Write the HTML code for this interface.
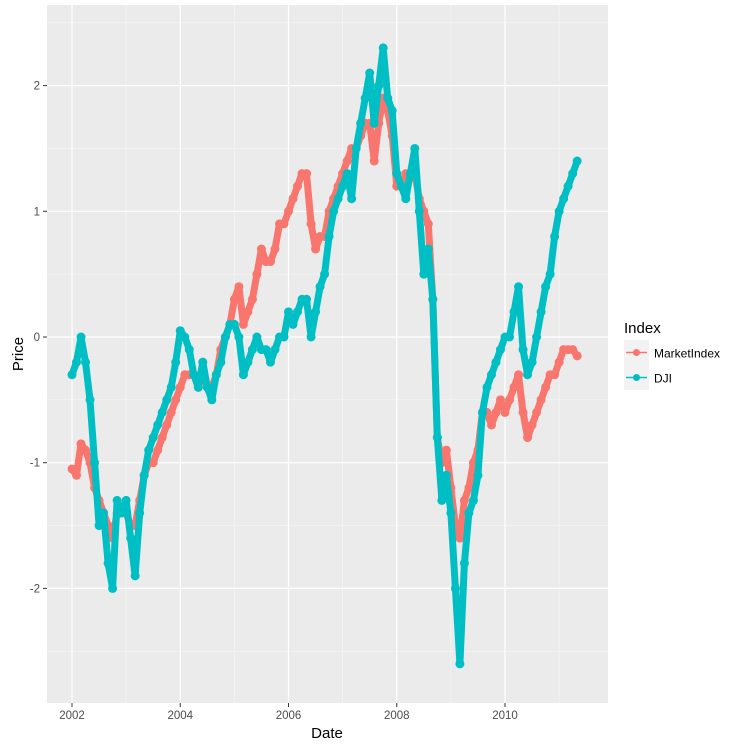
<!DOCTYPE html>
<html><head><meta charset="utf-8"><style>
body{margin:0;background:#fff}
svg text{font-family:"Liberation Sans",sans-serif}
</style></head><body>
<svg id="chart" width="750" height="750" xmlns="http://www.w3.org/2000/svg">
<rect x="0" y="0" width="750" height="750" fill="#fff"/>
<rect x="47" y="5" width="561" height="698" fill="#EBEBEB"/>
<g id="grid"></g>
<g id="series"></g>
<g id="axes"></g>
<text x="327" y="738" font-size="15" text-anchor="middle" fill="#000">Date</text>
<text transform="translate(23,354) rotate(-90)" font-size="15" text-anchor="middle" fill="#000">Price</text>
<g>
<text x="624" y="333" font-size="15" fill="#000">Index</text>
<g>
<rect x="624" y="340" width="25" height="25" fill="#F2F2F2"/>
<line x1="626" y1="352.5" x2="647" y2="352.5" stroke="#F8766D" stroke-width="1.5"/>
<circle cx="636.5" cy="352.5" r="3.5" fill="#F8766D"/>
<text x="654" y="357.5" font-size="12" fill="#000">MarketIndex</text>
</g>
<g>
<rect x="624" y="365" width="25" height="25" fill="#F2F2F2"/>
<line x1="626" y1="377.5" x2="647" y2="377.5" stroke="#00BFC4" stroke-width="1.5"/>
<circle cx="636.5" cy="377.5" r="3.5" fill="#00BFC4"/>
<text x="654" y="382.5" font-size="12" fill="#000">DJI</text>
</g>
</g>
</svg>
<script>
const startYear = 2002;
const djiValues = [
-0.3,-0.2,0.0,-0.2,-0.5,-1.0,-1.5,-1.4,-1.8,-2.0,-1.3,-1.4,
-1.3,-1.6,-1.9,-1.4,-1.1,-0.9,-0.8,-0.7,-0.6,-0.5,-0.4,-0.2,
0.05,0.0,-0.1,-0.3,-0.4,-0.2,-0.4,-0.5,-0.3,-0.2,0.0,0.1,
0.1,0.0,-0.3,-0.2,-0.1,0.0,-0.1,-0.1,-0.2,-0.1,0.0,0.0,
0.2,0.1,0.2,0.3,0.3,0.0,0.2,0.4,0.5,0.8,1.0,1.1,
1.2,1.3,1.1,1.5,1.7,1.9,2.1,1.7,2.0,2.3,1.9,1.8,
1.3,1.2,1.1,1.3,1.5,1.0,0.5,0.7,0.3,-0.8,-1.3,-1.1,
-1.4,-2.0,-2.6,-1.8,-1.4,-1.3,-1.1,-0.6,-0.4,-0.3,-0.2,-0.1,
0.0,0.0,0.2,0.4,-0.1,-0.3,-0.2,0.0,0.2,0.4,0.5,0.8,
1.0,1.1,1.2,1.3,1.4];
const marketValues = [
-1.05,-1.1,-0.85,-0.9,-1.0,-1.2,-1.3,-1.4,-1.5,-1.6,-1.4,-1.4,
-1.4,-1.5,-1.5,-1.3,-1.1,-1.0,-1.0,-0.9,-0.8,-0.7,-0.6,-0.5,
-0.4,-0.3,-0.3,-0.3,-0.4,-0.3,-0.4,-0.4,-0.3,-0.1,0.0,0.1,
0.3,0.4,0.1,0.2,0.3,0.5,0.7,0.6,0.6,0.7,0.9,0.9,
1.0,1.1,1.2,1.3,1.3,0.9,0.7,0.8,0.8,1.0,1.1,1.2,
1.3,1.4,1.5,1.5,1.6,1.7,1.7,1.4,1.7,1.9,1.8,1.6,
1.2,1.2,1.3,1.3,1.3,1.1,1.0,0.9,0.3,-0.8,-1.0,-0.9,
-1.2,-1.5,-1.6,-1.3,-1.2,-1.0,-0.9,-0.6,-0.6,-0.7,-0.6,-0.5,
-0.6,-0.5,-0.4,-0.3,-0.6,-0.8,-0.7,-0.6,-0.5,-0.4,-0.3,-0.3,
-0.2,-0.1,-0.1,-0.1,-0.15];
const xTicks = [2002,2004,2006,2008,2010];
const yTicks = [2,1,0,-1,-2];

const NS="http://www.w3.org/2000/svg";
function xs(year){return 72+(year-2002)*54.125;}
function ys(v){return 337-v*125.7;}
function mk(tag,attrs,parent){const e=document.createElementNS(NS,tag);for(const k in attrs)e.setAttribute(k,attrs[k]);parent.appendChild(e);return e;}
const grid=document.getElementById('grid'),axes=document.getElementById('axes'),series=document.getElementById('series');
for(let v=-2.5;v<=2.5;v+=1){const l=mk('line',{x1:47,x2:608,y1:ys(v),y2:ys(v),stroke:'#F7F7F7','stroke-width':0.6},grid);

}
for(let y=2003;y<=2011;y+=2){const l=mk('line',{x1:xs(y),x2:xs(y),y1:5,y2:703,stroke:'#F7F7F7','stroke-width':0.6},grid);

}
yTicks.forEach(v=>{const l=mk('line',{x1:47,x2:608,y1:ys(v),y2:ys(v),stroke:'#fff','stroke-width':1.2},grid);


const t=mk('text',{x:40,y:ys(v)+4,'font-size':11.5,'text-anchor':'end',fill:'#4D4D4D'},axes);t.textContent=v;


mk('line',{x1:43,x2:47,y1:ys(v),y2:ys(v),stroke:'#333','stroke-width':1},axes);});
xTicks.forEach(y=>{const l=mk('line',{x1:xs(y),x2:xs(y),y1:5,y2:703,stroke:'#fff','stroke-width':1.2},grid);


const t=mk('text',{x:xs(y),y:719,'font-size':11.5,'text-anchor':'middle',fill:'#4D4D4D'},axes);t.textContent=y;


mk('line',{x1:xs(y),x2:xs(y),y1:703,y2:707,stroke:'#333','stroke-width':1},axes);});
function draw(vals,color,name){
const g=mk('g',{},series);


const pts=vals.map((v,i)=>xs(startYear+i/12).toFixed(1)+','+ys(v).toFixed(1)).join(' ');
const pl=mk('polyline',{points:pts,fill:'none',stroke:color,'stroke-width':7,'stroke-linejoin':'round','stroke-linecap':'round'},g);


vals.forEach((v,i)=>{const c=mk('circle',{cx:xs(startYear+i/12),cy:ys(v),r:4.5,fill:color},g);

});}
draw(marketValues,'#F8766D','marketindex-series');
draw(djiValues,'#00BFC4','dji-series');
</script>
</body></html>
